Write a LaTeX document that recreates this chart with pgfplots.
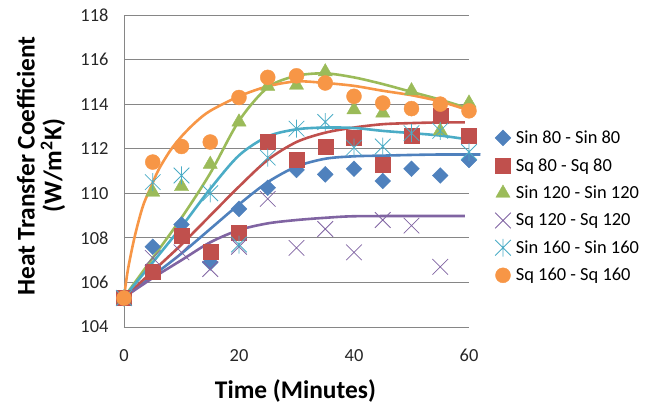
\documentclass[border=0pt]{standalone}
\usepackage{fontspec}
\setmainfont{Carlito}
\usepackage{pgfplots}
\pgfplotsset{compat=1.18}
\definecolor{cblue}{HTML}{4F81BD}
\definecolor{cred}{HTML}{C0504D}
\definecolor{cgreen}{HTML}{9BBB59}
\definecolor{cpurple}{HTML}{8064A2}
\definecolor{ccyan}{HTML}{4BACC6}
\definecolor{corange}{HTML}{F79646}
\definecolor{axgray}{HTML}{868686}
\pgfdeclareplotmark{xcross}{%
  \pgfpathmoveto{\pgfqpoint{-\pgfplotmarksize}{-\pgfplotmarksize}}%
  \pgfpathlineto{\pgfqpoint{\pgfplotmarksize}{\pgfplotmarksize}}%
  \pgfpathmoveto{\pgfqpoint{-\pgfplotmarksize}{\pgfplotmarksize}}%
  \pgfpathlineto{\pgfqpoint{\pgfplotmarksize}{-\pgfplotmarksize}}%
  \pgfusepathqstroke}
\pgfdeclareplotmark{xstar}{%
  \pgfpathmoveto{\pgfqpoint{-\pgfplotmarksize}{-\pgfplotmarksize}}%
  \pgfpathlineto{\pgfqpoint{\pgfplotmarksize}{\pgfplotmarksize}}%
  \pgfpathmoveto{\pgfqpoint{-\pgfplotmarksize}{\pgfplotmarksize}}%
  \pgfpathlineto{\pgfqpoint{\pgfplotmarksize}{-\pgfplotmarksize}}%
  \pgfpathmoveto{\pgfqpoint{0pt}{-1.15\pgfplotmarksize}}%
  \pgfpathlineto{\pgfqpoint{0pt}{1.15\pgfplotmarksize}}%
  \pgfusepathqstroke}
\pgfplotsset{
  mylegend/.style={legend image code/.code={\draw[mark repeat=2,mark phase=2] plot coordinates {(0bp,0bp) (5bp,0bp) (10bp,0bp)};}},
  trend/.style={no marks, smooth, line width=2.6bp, forget plot},
}
\begin{document}
\begin{tikzpicture}
\begin{axis}[
  scale only axis, width=345bp, height=312bp,
  xmin=0, xmax=60, ymin=104, ymax=118,
  xtick={0,20,40,60}, ytick={104,106,...,118},
  axis x line*=bottom, axis y line*=left,
  axis line style={-, color=axgray, line width=0.9bp},
  ymajorgrids, grid style={color=axgray, line width=0.9bp},
  major tick length=0pt,
  tick label style={font=\fontsize{18.5}{22}\selectfont, text=black!85},
  /pgf/number format/assume math mode=true,
  xticklabel shift=19bp, yticklabel shift=12bp,
  clip=false,
  xlabel={Time (Minutes)},
  xlabel style={at={(rel axis cs:0.497,-0.205)}, anchor=center, font=\fontsize{25.5}{28}\selectfont\bfseries},
  ylabel={Heat Transfer Coefficient\\(W/m\textsuperscript{2}K)},
  ylabel style={at={(rel axis cs:-0.2406,0.516)}, anchor=center, align=center, font=\fontsize{25.5}{27}\selectfont\bfseries},
  legend style={at={(rel axis cs:1.075,0.386)}, anchor=west, draw=none, fill=none, inner sep=0pt,
    font=\fontsize{18.5}{22}\selectfont, row sep=9.5bp, column sep=3bp},
  legend cell align=left,
]
% ---- data points ----
\addplot[only marks, mark=square*, mark size=5.6bp, mark options={rotate=45, fill=cblue, draw=cblue}, mylegend] coordinates {
(0,105.3) (5,107.6) (10,108.6) (15,106.9) (20,109.3) (25,110.25) (30,111.05) (35,110.85) (40,111.1) (45,110.55) (50,111.1) (55,110.8) (60,111.5)};
\addlegendentry{Sin 80 - Sin 80}
\addplot[only marks, mark=square*, mark size=7.5bp, mark options={fill=cred, draw=cred}, mylegend] coordinates {
(0,105.3) (5,106.5) (10,108.1) (15,107.4) (20,108.25) (25,112.3) (30,111.5) (35,112.1) (40,112.5) (45,111.3) (50,112.6) (55,113.5) (60,112.6)};
\addlegendentry{Sq 80 - Sq 80}
\addplot[only marks, mark=triangle*, mark size=8.2bp, mark options={fill=cgreen, draw=cgreen}, mylegend] coordinates {
(0,105.3) (5,110.05) (10,110.3) (15,111.3) (20,113.2) (25,114.8) (30,114.85) (35,115.45) (40,113.75) (45,113.6) (50,114.6) (55,112.8) (60,114.05)};
\addlegendentry{Sin 120 - Sin 120}
\addplot[only marks, mark=xcross, mark size=7.8bp, mark options={draw=cpurple, line width=0.8bp}, mylegend] coordinates {
(0,105.3) (5,107.1) (10,107.35) (15,106.6) (20,107.6) (25,109.75) (30,107.55) (35,108.4) (40,107.35) (45,108.8) (50,108.55) (55,106.7)};
\addlegendentry{Sq 120 - Sq 120}
\addplot[only marks, mark=xstar, mark size=7.8bp, mark options={draw=ccyan, line width=0.8bp}, mylegend] coordinates {
(0,105.3) (5,110.5) (10,110.8) (15,110.0) (20,107.7) (25,111.6) (30,112.9) (35,113.2) (40,112.05) (45,112.1) (50,112.7) (55,112.8) (60,111.85)};
\addlegendentry{Sin 160 - Sin 160}
\addplot[only marks, mark=*, mark size=7.5bp, mark options={fill=corange, draw=corange}, mylegend] coordinates {
(0,105.3) (5,111.4) (10,112.1) (15,112.3) (20,114.3) (25,115.2) (30,115.27) (35,114.95) (40,114.35) (45,114.05) (50,113.8) (55,114.0) (60,113.7)};
\addlegendentry{Sq 160 - Sq 160}
% ---- trend lines ----
\addplot[trend, cblue] coordinates {
(0,105.33) (5,106.3) (10,107.3) (15,108.4) (20,109.5) (25,110.5) (30,111.2) (35,111.55) (40,111.66) (45,111.69) (50,111.72) (55,111.74) (62,111.74)};
\addplot[trend, cred] coordinates {
(0,105.33) (5,106.5) (10,107.7) (15,109.0) (20,110.3) (25,111.5) (30,112.3) (35,112.72) (40,112.95) (45,113.1) (50,113.15) (55,113.18) (59.3,113.18)};
\addplot[trend, cgreen] coordinates {
(0,105.33) (5,107.1) (10,108.9) (15,110.9) (20,113.25) (25,114.75) (30,115.27) (35,115.38) (40,115.2) (45,114.9) (50,114.55) (55,114.2) (60,113.8)};
\addplot[trend, cpurple] coordinates {
(0,105.33) (5,106.2) (10,107.0) (15,107.8) (20,108.35) (25,108.65) (30,108.8) (35,108.9) (40,108.97) (50,108.98) (59.3,108.98)};
\addplot[trend, ccyan] coordinates {
(0,105.33) (5,106.9) (10,108.5) (15,110.2) (20,111.7) (25,112.55) (30,112.87) (35,112.95) (40,112.93) (45,112.8) (50,112.7) (55,112.59) (60,112.41)};
\addplot[trend, corange] coordinates {
(0,105.33) (0.7,106.6) (1.9,108.1) (3.3,109.43) (4.75,110.32) (6,111.05) (8,111.9) (10,112.55) (12.5,113.2) (15,113.7) (20,114.35) (25,114.8) (30,115.02) (35,114.95) (40,114.82) (45,114.6) (50,114.4) (55,114.12) (60,113.72)};
\end{axis}
\pgfresetboundingbox
\path (-124bp,-79bp) rectangle (529bp,327bp);
\end{tikzpicture}
\end{document}
